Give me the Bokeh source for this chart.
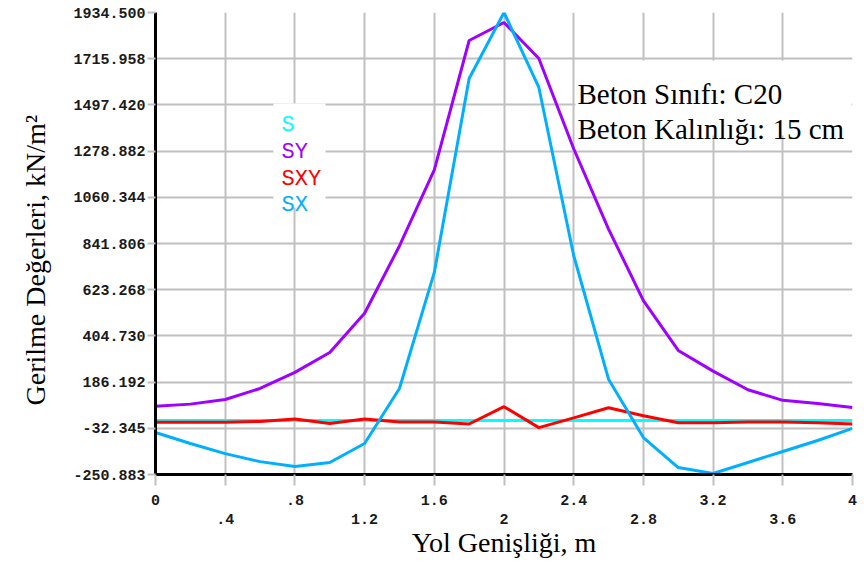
from bokeh.plotting import figure
from bokeh.models import (Range1d, FixedTicker, LinearAxis, PrintfTickFormatter,
                          Label, BoxAnnotation, Title)
from bokeh.embed import file_html
from bokeh.resources import INLINE

# ---------------- data ----------------
x_m = [0.0, 0.2, 0.4, 0.6, 0.8, 1.0, 1.2, 1.4, 1.6, 1.8, 2.0,
       2.2, 2.4, 2.6, 2.8, 3.0, 3.2, 3.4, 3.6, 3.8, 4.0]
s_vals = [5, 5, 5, 5, 5, 5, 5, 5, 5, 5, 5,
          5, 5, 5, 5, 5, 5, 5, 5, 5, 5]
sy_vals = [72, 82, 104, 156, 232, 326, 512, 830, 1190, 1802, 1887,
           1717, 1290, 910, 572, 336, 238, 150, 100, 85, 66]
sxy_vals = [-4, -4, -4, 0, 12, -10, 12, -2, -2, -12, 70,
            -29, 17, 65, 27, -6, -6, -2, -2, -6, -12]
sx_vals = [-52, -104, -152, -190, -213, -194, -104, 156, 705, 1622, 1934.5,
           1580, 785, 200, -76, -218, -246, -194, -142, -90, -33]

series_names = ["S", "SY", "SXY", "SX"]
series_colors = ["#00FFFF", "#A000FF", "#FF0000", "#00B0FF"]

y_ticks = [-250.883, -32.345, 186.192, 404.730, 623.268, 841.806,
           1060.344, 1278.882, 1497.420, 1715.958, 1934.500]
x_ticks_all = [0, 0.4, 0.8, 1.2, 1.6, 2, 2.4, 2.8, 3.2, 3.6, 4]
x_row1 = [0, 0.8, 1.6, 2.4, 3.2, 4]
x_row1_labels = ["0", ".8", "1.6", "2.4", "3.2", "4"]
x_row2 = [0.4, 1.2, 2, 2.8, 3.6]
x_row2_labels = [".4", "1.2", "2", "2.8", "3.6"]

x_title = "Yol Genişliği, m"
y_title = "Gerilme Değerleri, kN/m²"
note_lines = ["Beton Sınıfı: C20", "Beton Kalınlığı: 15 cm"]

# ---------------- figure ----------------
p = figure(frame_width=697, frame_height=462,
           min_border_left=155, min_border_right=12,
           min_border_top=12, min_border_bottom=90,
           x_range=Range1d(0, 4), y_range=Range1d(y_ticks[0], y_ticks[-1]),
           output_backend="svg", toolbar_location=None,
           background_fill_color="white", border_fill_color="white")
p.outline_line_color = None

GRID = "#C0C0C0"
MONO = "Liberation Mono"
SERIF = "Liberation Serif"

# grids
p.xgrid.ticker = FixedTicker(ticks=x_ticks_all)
p.ygrid.ticker = FixedTicker(ticks=y_ticks)
for g in (p.xgrid, p.ygrid):
    g.grid_line_color = GRID
    g.grid_line_width = 2

# y axis
ya = p.yaxis[0]
ya.ticker = FixedTicker(ticks=y_ticks)
ya.formatter = PrintfTickFormatter(format="%.3f")
ya.axis_line_color = "black"
ya.axis_line_width = 3
ya.major_tick_in = 0
ya.major_tick_out = 8
ya.major_tick_line_color = GRID
ya.major_tick_line_width = 2
ya.minor_tick_line_color = None
ya.major_label_standoff = 2
ya.major_label_text_font = MONO
ya.major_label_text_font_style = "bold"
ya.major_label_text_font_size = "15px"
ya.major_label_text_color = "#1a1a1a"

# y title (left side, shifted along the axis)
p.add_layout(Title(text=y_title, align="left", offset=69,
                   vertical_align="middle", standoff=37,
                   text_font=SERIF, text_font_size="28px",
                   text_font_style="normal", text_color="black"), "left")

# x axis, first row
xa = p.xaxis[0]
xa.ticker = FixedTicker(ticks=x_ticks_all)
over1 = {t: "" for t in x_ticks_all}
for t, lab in zip(x_row1, x_row1_labels):
    over1[t] = lab
xa.major_label_overrides = over1
xa.axis_line_color = "black"
xa.axis_line_width = 3
xa.major_tick_in = 0
xa.major_tick_out = 11
xa.major_tick_line_color = GRID
xa.major_tick_line_width = 2
xa.minor_tick_line_color = None
xa.major_label_standoff = 9
xa.major_label_text_font = MONO
xa.major_label_text_font_style = "bold"
xa.major_label_text_font_size = "15px"
xa.major_label_text_color = "#1a1a1a"

# x axis, second row + title
over2 = {t: lab for t, lab in zip(x_row2, x_row2_labels)}
xa2 = LinearAxis(ticker=FixedTicker(ticks=x_row2), major_label_overrides=over2)
xa2.axis_line_color = None
xa2.major_tick_line_color = None
xa2.minor_tick_line_color = None
xa2.major_tick_in = 0
xa2.major_tick_out = 0
xa2.major_label_standoff = 6
xa2.major_label_text_font = MONO
xa2.major_label_text_font_style = "bold"
xa2.major_label_text_font_size = "15px"
xa2.major_label_text_color = "#1a1a1a"
xa2.axis_label = x_title
xa2.axis_label_text_font = SERIF
xa2.axis_label_text_font_style = "normal"
xa2.axis_label_text_font_size = "28px"
xa2.axis_label_text_color = "black"
xa2.axis_label_standoff = 0
p.add_layout(xa2, "below")

# white boxes behind legend and note
p.add_layout(BoxAnnotation(left=118, right=170, bottom=267, top=371,
                           left_units="screen", right_units="screen",
                           bottom_units="screen", top_units="screen",
                           fill_color="white", fill_alpha=1.0, line_color=None,
                           level="underlay"))
p.add_layout(BoxAnnotation(left=420, right=696, bottom=339, top=414,
                           left_units="screen", right_units="screen",
                           bottom_units="screen", top_units="screen",
                           fill_color="white", fill_alpha=1.0, line_color=None,
                           level="underlay"))

# series lines
for vals, col in zip([s_vals, sy_vals, sxy_vals, sx_vals], series_colors):
    p.line(x_m, vals, line_color=col, line_width=3)

# legend text
legend_y = [349, 322, 295, 269]
for name, col, ly in zip(series_names, series_colors, legend_y):
    p.add_layout(Label(x=126, y=ly, x_units="screen", y_units="screen",
                       text=name, text_color=col, text_font=MONO,
                       text_font_size="22px", text_baseline="alphabetic",
                       text_align="left"))

# note text
for line, ly in zip(note_lines, [381, 346]):
    p.add_layout(Label(x=422, y=ly, x_units="screen", y_units="screen",
                       text=line, text_color="black", text_font=SERIF,
                       text_font_size="29px", text_baseline="alphabetic",
                       text_align="left"))

open("out.html", "w").write(file_html(p, INLINE))
